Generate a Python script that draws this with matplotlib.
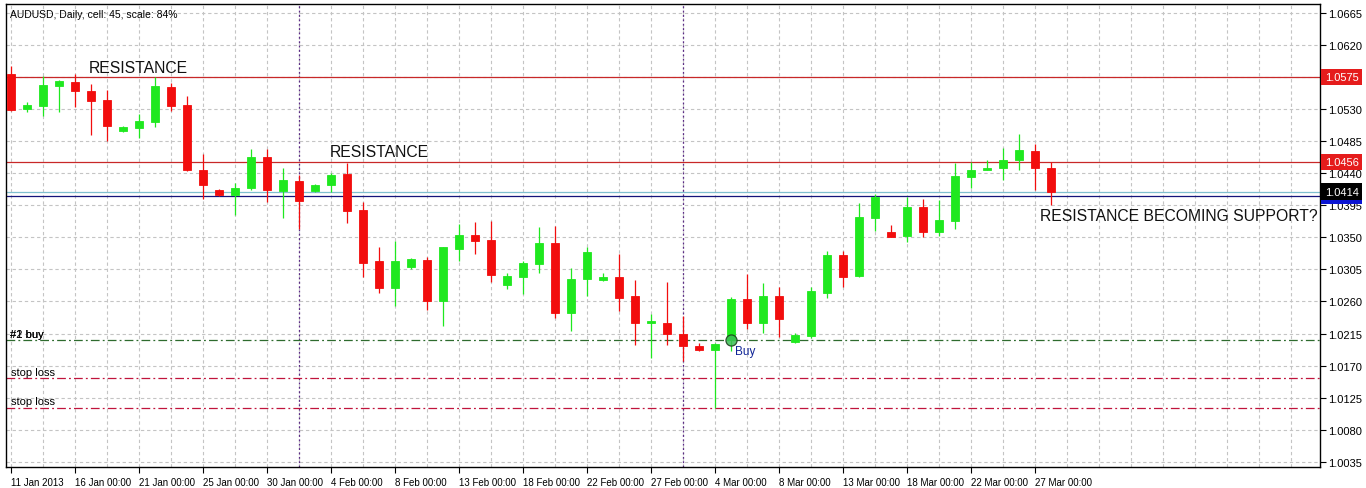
import matplotlib
matplotlib.use("Agg")
import matplotlib.pyplot as plt
import matplotlib.transforms as mtransforms
import numpy as np

plt.rcParams['font.family'] = ['Liberation Sans', 'DejaVu Sans']

# AUDUSD daily bars, 11 Jan 2013 .. 28 Mar 2013 (feed has sunday bars)
opens = [1.0579, 1.0530, 1.0535, 1.0562, 1.0568, 1.0555, 1.0543, 1.0499, 1.0504, 1.0512,
         1.0561, 1.0536, 1.0445, 1.0416, 1.0409, 1.0419, 1.0463, 1.0415, 1.0429, 1.0415,
         1.0423, 1.0439, 1.0388, 1.0317, 1.0279, 1.0309, 1.0318, 1.0260, 1.0334, 1.0353,
         1.0346, 1.0283, 1.0295, 1.0313, 1.0342, 1.0244, 1.0292, 1.0290, 1.0295, 1.0268,
         1.0230, 1.0230, 1.0215, 1.0197, 1.0192, 1.0206, 1.0263, 1.0230, 1.0268, 1.0203,
         1.0211, 1.0272, 1.0325, 1.0296, 1.0377, 1.0357, 1.0352, 1.0392, 1.0358, 1.0373,
         1.0435, 1.0445, 1.0447, 1.0459, 1.0471, 1.0447]
highs = [1.0591, 1.0540, 1.0576, 1.0571, 1.0579, 1.0566, 1.0557, 1.0506, 1.0523, 1.0575,
         1.0567, 1.0548, 1.0467, 1.0418, 1.0426, 1.0474, 1.0474, 1.0447, 1.0438, 1.0425,
         1.0441, 1.0455, 1.0399, 1.0336, 1.0345, 1.0321, 1.0322, 1.0336, 1.0369, 1.0372,
         1.0373, 1.0300, 1.0317, 1.0365, 1.0366, 1.0307, 1.0337, 1.0300, 1.0327, 1.0290,
         1.0242, 1.0288, 1.0240, 1.0202, 1.0201, 1.0266, 1.0299, 1.0286, 1.0280, 1.0216,
         1.0281, 1.0331, 1.0331, 1.0398, 1.0411, 1.0367, 1.0406, 1.0404, 1.0402, 1.0454,
         1.0456, 1.0459, 1.0476, 1.0495, 1.0481, 1.0456]
lows = [1.0528, 1.0526, 1.0521, 1.0526, 1.0533, 1.0494, 1.0485, 1.0498, 1.0490, 1.0505,
        1.0527, 1.0443, 1.0404, 1.0408, 1.0381, 1.0417, 1.0399, 1.0377, 1.0362, 1.0414,
        1.0413, 1.0370, 1.0295, 1.0272, 1.0253, 1.0305, 1.0248, 1.0225, 1.0317, 1.0326,
        1.0288, 1.0278, 1.0270, 1.0300, 1.0237, 1.0219, 1.0268, 1.0289, 1.0247, 1.0199,
        1.0180, 1.0199, 1.0177, 1.0191, 1.0111, 1.0191, 1.0221, 1.0216, 1.0210, 1.0202,
        1.0208, 1.0265, 1.0280, 1.0294, 1.0359, 1.0351, 1.0343, 1.0351, 1.0352, 1.0362,
        1.0419, 1.0444, 1.0430, 1.0445, 1.0417, 1.0395]
closes = [1.0529, 1.0536, 1.0564, 1.0570, 1.0556, 1.0542, 1.0507, 1.0505, 1.0513, 1.0563,
          1.0535, 1.0444, 1.0423, 1.0410, 1.0419, 1.0463, 1.0416, 1.0431, 1.0401, 1.0424,
          1.0438, 1.0387, 1.0314, 1.0279, 1.0317, 1.0320, 1.0260, 1.0336, 1.0353, 1.0345,
          1.0297, 1.0296, 1.0314, 1.0342, 1.0244, 1.0292, 1.0330, 1.0295, 1.0265, 1.0230,
          1.0232, 1.0214, 1.0197, 1.0192, 1.0200, 1.0263, 1.0230, 1.0268, 1.0235, 1.0213,
          1.0274, 1.0325, 1.0295, 1.0379, 1.0407, 1.0351, 1.0392, 1.0358, 1.0374, 1.0436,
          1.0444, 1.0447, 1.0459, 1.0473, 1.0447, 1.0414]

# one label every 4 bars
date_labels = ["11 Jan 2013", "16 Jan 00:00", "21 Jan 00:00", "25 Jan 00:00", "30 Jan 00:00",
               "4 Feb 00:00", "8 Feb 00:00", "13 Feb 00:00", "18 Feb 00:00", "22 Feb 00:00",
               "27 Feb 00:00", "4 Mar 00:00", "8 Mar 00:00", "13 Mar 00:00", "18 Mar 00:00",
               "22 Mar 00:00", "27 Mar 00:00"]
price_ticks = [1.0035, 1.0080, 1.0125, 1.0170, 1.0215, 1.0260, 1.0305, 1.0350,
               1.0395, 1.0440, 1.0485, 1.0530, 1.0575, 1.0620, 1.0665]

resistance_levels = [1.0575, 1.0456]
bid_level = 1.0414
blue_level = 1.0408
buy_level = 1.0206
stop_levels = [1.01525, 1.0111]
month_bars = [18, 42]
buy_bar = 45

UP = '#1fe81f'
DOWN = '#f20d0d'

fig = plt.figure(figsize=(13.66, 4.89), dpi=100)
W, H = 1366, 489
ax = fig.add_axes([6 / W, 21 / H, 1314 / W, 463 / H])

n = len(opens)
x = np.arange(n)
o = np.array(opens); c = np.array(closes)
hi = np.array(highs); lo = np.array(lows)
cols = [UP if cc >= oo else DOWN for oo, cc in zip(o, c)]

# grid
for p in price_ticks:
    ax.axhline(p, color='#c4c4c4', lw=0.8, ls=(0, (3, 2.5)), zorder=0)
for gx in range(0, 82, 2):
    ax.axvline(gx, color='#c4c4c4', lw=0.8, ls=(0, (3, 2.5)), zorder=0)

# month separators
for mb in month_bars:
    ax.axvline(mb, color='#5b2a86', lw=0.9, ls=(0, (1.5, 2)), zorder=1)

# horizontal levels
for lv in resistance_levels:
    ax.axhline(lv, color='#c82828', lw=0.9, zorder=2)
ax.axhline(bid_level, color='#7fbfcf', lw=0.9, zorder=2)
ax.axhline(blue_level, color='#14147a', lw=0.9, zorder=2)
ax.axhline(buy_level, color='#2e6b2e', lw=0.9, ls=(0, (7, 2.5, 1.5, 2.5)), zorder=2)
for lv in stop_levels:
    ax.axhline(lv, color='#c0143c', lw=0.9, ls=(0, (7, 2.5, 1.5, 2.5)), zorder=2)

# candles
ax.vlines(x, lo, hi, colors=cols, lw=0.9, zorder=3)
ax.bar(x, c - o, bottom=o, width=0.56, color=cols, edgecolor=cols, lw=0.6, zorder=4)

# buy marker
ax.plot(buy_bar, buy_level, 'o', ms=8, mfc='#3cbf55', mec='#1c3a1c', mew=0.9, alpha=0.85, zorder=5)
ax.text(buy_bar + 0.25, buy_level - 0.0007, 'Buy', color='#0f2496', fontsize=8.5,
        va='top', ha='left', zorder=6)

# order labels
ax.text(-0.06, buy_level + 0.0009, '#1 buy', fontsize=8, va='center', ha='left', zorder=6)
ax.text(-0.06, buy_level + 0.0009, '#2 buy', fontsize=8, va='center', ha='left', zorder=6)
for lv in stop_levels:
    ax.text(0.0, lv + 0.0009, 'stop loss', fontsize=8, va='center', ha='left', zorder=6)

# annotations
ax.text(4.875, 1.05878, 'RESISTANCE', fontsize=11.3, va='center', ha='left', color='#111111')
ax.text(19.94, 1.04712, 'RESISTANCE', fontsize=11.3, va='center', ha='left', color='#111111')
ax.text(64.31, 1.03800, 'RESISTANCE BECOMING SUPPORT?', fontsize=11.3, va='center',
        ha='left', color='#111111')

fig.text(10 / W, 1 - 15 / H, 'AUDUSD, Daily, cell: 45, scale: 84%', fontsize=7.5,
         va='center', ha='left')

ax.set_xlim(-0.3125, 81.8125)
ax.set_ylim(1.002758, 1.067764)

# axes / ticks (the 1.0575 label sits under its price box)
ax.yaxis.tick_right()
ax.set_yticks(price_ticks)
ax.set_yticklabels(['' if p in resistance_levels else '%.4f' % p for p in price_ticks], fontsize=8)
ax.tick_params(axis='y', direction='out', length=4, width=0.8, pad=2)
xt = np.arange(0, len(date_labels) * 4, 4)
ax.set_xticks(xt)
ax.set_xticklabels(date_labels, fontsize=7, ha='left')
ax.tick_params(axis='x', direction='out', length=4, width=0.8, pad=3)
for sp in ax.spines.values():
    sp.set_linewidth(1.0)
    sp.set_color('black')

# price boxes on the right scale
trans = mtransforms.blended_transform_factory(ax.transAxes, ax.transData)
boxes = [(blue_level, '1.0407', '#0a14d2'), (bid_level, '%.4f' % bid_level, 'black')]
boxes += [(lv, '%.4f' % lv, '#e51c1c') for lv in resistance_levels]
for lv, txt, bc in boxes:
    ax.text(1.0035, lv, txt, transform=trans, fontsize=8, color='white', va='center', ha='left',
            clip_on=False, zorder=10,
            bbox=dict(boxstyle='square,pad=0.3', fc=bc, ec='none'))

fig.savefig('out.png', dpi=100)
